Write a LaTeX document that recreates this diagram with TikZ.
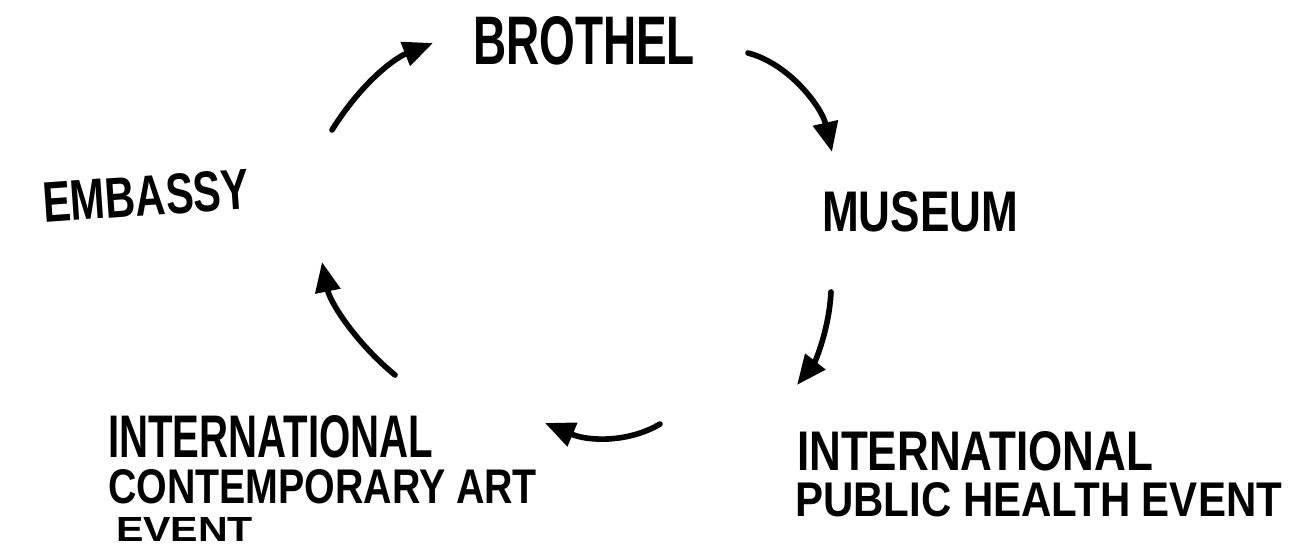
\documentclass[tikz,border=0pt]{standalone}
\usepackage{fontspec}
\usepackage{graphicx}
\setmainfont{Liberation Sans}
\usetikzlibrary{arrows.meta}
\newlength\pxu
\setlength\pxu{0.02cm}
\newcommand\hand[3]{\resizebox{#1\pxu}{#2\pxu}{\bfseries #3}}
\tikzset{
  lbl/.style={inner sep=0pt, outer sep=0pt, anchor=south west},
  flow/.style={line width=3.2pt, line cap=round, black,
    -{Triangle[length=17pt,width=14pt]}}
}
\begin{document}
\begin{tikzpicture}[x=0.02cm,y=-0.02cm]
\fill[white] (0,0) rectangle (1296,547);
\useasboundingbox (0,0) rectangle (1296,547);

% labels
\node[lbl] (brothel) at (473,65) {\hand{222}{48}{BROTHEL}};
\node[lbl] (museum) at (822,232) {\hand{196}{40}{MUSEUM}};
\node[inner sep=0pt, rotate=4] (embassy) at (146,196) {\hand{207}{40}{EMBASSY}};
\node[lbl] (ica1) at (108,458) {\hand{325}{42}{INTERNATIONAL}};
\node[lbl] (ica2) at (108,504) {\hand{429}{34}{CONTEMPORARY ART}};
\node[lbl] (ica3) at (116,541) {\hand{137}{24}{EVENT}};
\node[lbl] (iph1) at (797,471) {\hand{356}{39}{INTERNATIONAL}};
\node[lbl] (iph2) at (795,517) {\hand{487}{34}{PUBLIC HEALTH EVENT}};

% arrow end points
\coordinate (a1s) at (332,130);
\coordinate (a1e) at (433,43);
\coordinate (a2s) at (748,53);
\coordinate (a2e) at (832,152);
\coordinate (a3s) at (831,292);
\coordinate (a3e) at (797,385);
\coordinate (a4s) at (660,424);
\coordinate (a4e) at (545,423);
\coordinate (a5s) at (395,375);
\coordinate (a5e) at (322,262);

\draw[flow] (a1s) .. controls (362,82) and (395,58) .. (a1e);
\draw[flow] (a2s) .. controls (790,64) and (822,108) .. (a2e);
\draw[flow] (a3s) .. controls (829,330) and (815,362) .. (a3e);
\draw[flow] (a4s) .. controls (630,442) and (590,442) .. (a4e);
\draw[flow] (a5s) .. controls (355,342) and (330,302) .. (a5e);
\end{tikzpicture}
\end{document}
